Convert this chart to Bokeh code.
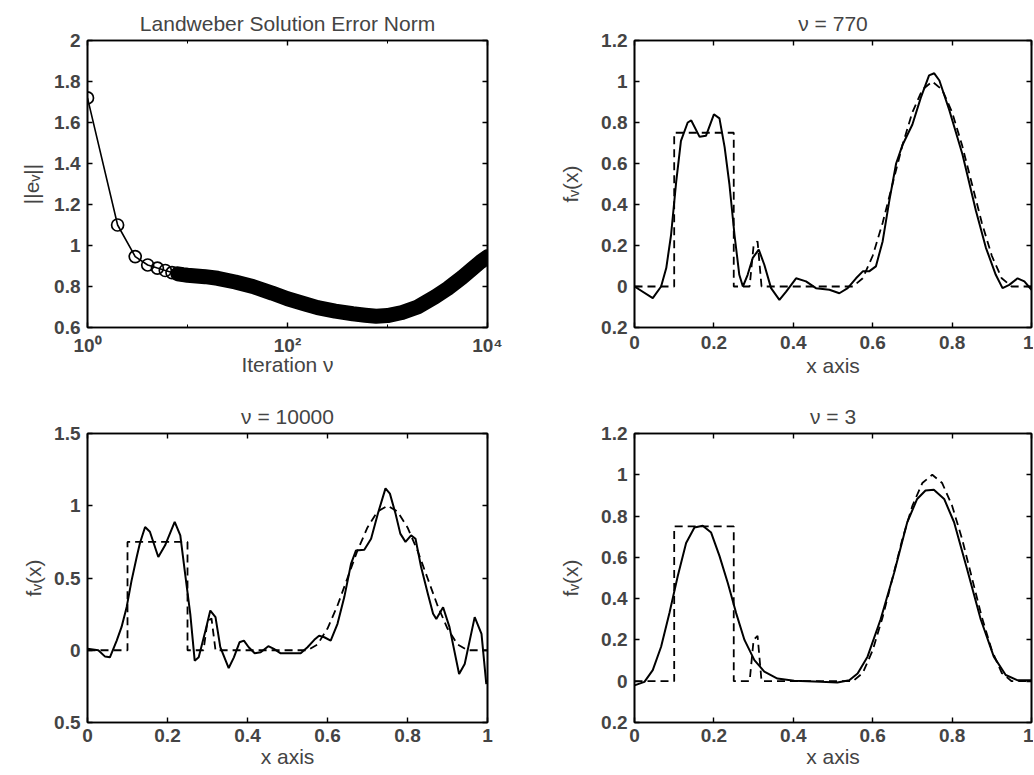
from bokeh.plotting import figure
from bokeh.layouts import column, row
from bokeh.models import FixedTicker, LinearAxis, LogAxis, Range1d
from bokeh.embed import file_html
from bokeh.resources import INLINE

FONT = "Liberation Sans"

# ---------------- data ----------------
# Landweber solution error norm vs iteration
nu_iter = [1, 2, 3, 4, 5, 6, 7, 8, 9, 10, 15, 20, 30, 45, 70, 100, 150, 200, 300,
           450, 600, 770, 1000, 1400, 2000, 3000, 4000, 5600, 7000, 8500, 10000]
err_norm = [1.72, 1.10, 0.946, 0.905, 0.89, 0.878, 0.868, 0.862, 0.858, 0.855, 0.848,
            0.840, 0.822, 0.800, 0.768, 0.740, 0.715, 0.697, 0.680, 0.667, 0.660, 0.655,
            0.658, 0.673, 0.700, 0.750, 0.790, 0.845, 0.885, 0.920, 0.945]

# exact solution (dashed)
x_true = [0, 0.1, 0.1, 0.25, 0.25, 0.29, 0.30, 0.31, 0.32, 0.55, 0.575, 0.6, 0.625, 0.65,
          0.675, 0.7, 0.725, 0.75, 0.775, 0.8, 0.825, 0.85, 0.875, 0.9, 0.925, 0.95, 1.0]
f_true = [0, 0, 0.75, 0.75, 0, 0, 0.2, 0.22, 0, 0, 0.04, 0.15, 0.31, 0.5,
          0.69, 0.85, 0.96, 1.0, 0.96, 0.85, 0.69, 0.5, 0.31, 0.15, 0.04, 0, 0]

# nu = 770
x_770 = [0, 0.046, 0.067, 0.08, 0.092, 0.105, 0.117, 0.134, 0.143, 0.164, 0.18, 0.2, 0.214,
         0.227, 0.239, 0.252, 0.264, 0.273, 0.285, 0.298, 0.313, 0.327, 0.344, 0.365, 0.382,
         0.407, 0.432, 0.457, 0.491, 0.516, 0.537, 0.558, 0.575, 0.591, 0.608, 0.625, 0.642,
         0.659, 0.675, 0.70, 0.721, 0.742, 0.755, 0.768, 0.793, 0.826, 0.86, 0.885, 0.91,
         0.927, 0.944, 0.965, 0.982, 1.0]
f_770 = [0, -0.057, 0, 0.09, 0.25, 0.51, 0.71, 0.80, 0.81, 0.73, 0.735, 0.84, 0.82,
         0.68, 0.50, 0.25, 0.057, 0.0, 0.057, 0.14, 0.18, 0.106, -0.008, -0.065, -0.025,
         0.04, 0.025, -0.008, -0.016, -0.033, -0.008, 0.04, 0.074, 0.074, 0.098, 0.22, 0.42,
         0.60, 0.69, 0.79, 0.92, 1.03, 1.04, 1.005, 0.86, 0.645, 0.37, 0.19, 0.057,
         -0.008, 0.008, 0.04, 0.025, -0.016]

# nu = 10000
x_10000 = [0, 0.027, 0.044, 0.056, 0.073, 0.085, 0.098, 0.11, 0.123, 0.131, 0.144, 0.156,
           0.177, 0.194, 0.218, 0.232, 0.244, 0.257, 0.268, 0.278, 0.295, 0.307, 0.32, 0.332,
           0.353, 0.366, 0.38, 0.391, 0.403, 0.418, 0.433, 0.452, 0.466, 0.483, 0.504, 0.533,
           0.55, 0.567, 0.579, 0.592, 0.608, 0.625, 0.642, 0.659, 0.671, 0.692, 0.709, 0.726,
           0.745, 0.756, 0.77, 0.782, 0.795, 0.809, 0.82, 0.834, 0.851, 0.864, 0.872, 0.889,
           0.905, 0.929, 0.943, 0.968, 0.985, 0.997]
f_10000 = [0.01, 0, -0.044, -0.049, 0.067, 0.16, 0.30, 0.48, 0.645, 0.74, 0.853, 0.82,
           0.645, 0.726, 0.888, 0.795, 0.53, 0.25, -0.072, -0.049, 0.136, 0.275, 0.229, 0.021,
           -0.123, -0.049, 0.055, 0.067, 0.021, -0.021, -0.014, 0.028, 0.009, -0.021, -0.021, -0.021,
           0.021, 0.072, 0.10, 0.09, 0.067, 0.183, 0.368, 0.60, 0.69, 0.696, 0.772, 0.946,
           1.12, 1.084, 0.946, 0.807, 0.75, 0.795, 0.772, 0.576, 0.39, 0.252, 0.217, 0.298,
           0.16, -0.164, -0.095, 0.229, 0.113, -0.234]

# nu = 3
x_3 = [0, 0.025, 0.046, 0.067, 0.088, 0.109, 0.13, 0.151, 0.172, 0.193, 0.214, 0.235, 0.256,
       0.277, 0.302, 0.327, 0.36, 0.402, 0.469, 0.511, 0.541, 0.562, 0.587, 0.62, 0.654, 0.687,
       0.712, 0.733, 0.754, 0.78, 0.805, 0.838, 0.872, 0.905, 0.935, 0.964, 1.0]
f_3 = [-0.02, -0.003, 0.054, 0.167, 0.33, 0.51, 0.67, 0.745, 0.753, 0.72, 0.607, 0.476, 0.33,
       0.2, 0.102, 0.046, 0.013, 0.002, -0.003, -0.006, 0.005, 0.037, 0.119, 0.30, 0.525, 0.77,
       0.883, 0.924, 0.927, 0.883, 0.77, 0.541, 0.30, 0.119, 0.03, 0.005, 0.005]

# tick values and labels
err_x_ticks = [1, 100, 10000]
err_x_labels = ["10\u2070", "10\u00b2", "10\u2074"]
err_x_minor = [10, 1000]
err_y_ticks = [0.6, 0.8, 1.0, 1.2, 1.4, 1.6, 1.8, 2.0]
err_y_labels = ["0.6", "0.8", "1", "1.2", "1.4", "1.6", "1.8", "2"]
fx_ticks = [0, 0.2, 0.4, 0.6, 0.8, 1.0]
fx_labels = ["0", "0.2", "0.4", "0.6", "0.8", "1"]
fy_ticks_a = [-0.2, 0, 0.2, 0.4, 0.6, 0.8, 1.0, 1.2]
fy_labels_a = ["0.2", "0", "0.2", "0.4", "0.6", "0.8", "1", "1.2"]
fy_ticks_b = [-0.5, 0, 0.5, 1.0, 1.5]
fy_labels_b = ["0.5", "0", "0.5", "1", "1.5"]


def overrides(ticks, labels):
    return {t: l for t, l in zip(ticks, labels)}


def make_fig(title, width, height, borders, xr, yr, xt, xl, yt, yl,
             xlabel=None, ylabel=None, log=False, xminor=None, ylabel_standoff=8,
             xtick_standoff=8, xlabel_standoff=2):
    bl, br, bt, bb = borders
    p = figure(width=width, height=height, x_range=Range1d(*xr), y_range=Range1d(*yr),
               x_axis_type="log" if log else "linear",
               toolbar_location=None, output_backend="svg",
               min_border_left=bl, min_border_right=br,
               min_border_top=bt, min_border_bottom=bb)
    p.title.text = title
    p.title.align = "center"
    p.title.text_font = FONT
    p.title.text_font_size = "21px"
    p.title.text_font_style = "normal"
    p.title.standoff = 12
    p.grid.visible = False
    p.outline_line_color = "black"
    p.outline_line_width = 1.6
    p.background_fill_color = "white"
    p.border_fill_color = "white"

    xa = p.xaxis[0]
    xa.ticker = FixedTicker(ticks=xt, minor_ticks=xminor or [])
    xa.major_label_overrides = overrides(xt, xl)
    ya = p.yaxis[0]
    ya.ticker = FixedTicker(ticks=yt)
    ya.major_label_overrides = overrides(yt, yl)
    for ax in (xa, ya):
        ax.major_tick_in = 5
        ax.major_tick_out = 0
        ax.minor_tick_in = 3 if ax is xa and xminor else 0
        ax.minor_tick_out = 0
        ax.axis_line_width = 1.6
        ax.major_tick_line_width = 1.4
        ax.major_label_text_font = FONT
        ax.major_label_text_font_size = "19px"
        ax.major_label_text_font_style = "bold"
        ax.axis_label_text_font = FONT
        ax.axis_label_text_font_size = "21px"
        ax.axis_label_text_font_style = "normal"
    xa.major_label_standoff = xtick_standoff
    xa.axis_label_standoff = xlabel_standoff
    ya.major_label_standoff = 7
    ya.axis_label_standoff = ylabel_standoff
    if xlabel:
        xa.axis_label = xlabel
    if ylabel:
        ya.axis_label = ylabel

    # mirrored ticks on top and right (box style)
    top_cls = LogAxis if log else LinearAxis
    top = top_cls(ticker=FixedTicker(ticks=xt, minor_ticks=xminor or []))
    right = LinearAxis(ticker=FixedTicker(ticks=yt))
    for ax in (top, right):
        ax.major_tick_in = 5
        ax.major_tick_out = 0
        ax.minor_tick_in = 3 if (ax is top and xminor) else 0
        ax.minor_tick_out = 0
        ax.major_label_text_font_size = "1px"
        ax.major_label_text_alpha = 0
        ax.major_label_standoff = 0
        ax.axis_line_width = 1.6
        ax.major_tick_line_width = 1.4
    p.add_layout(top, "above")
    p.add_layout(right, "right")
    return p


# top-left: error norm
p1 = make_fig("Landweber Solution Error Norm", 517, 388, (87, 30, 40, 61),
              (1, 10000), (0.6, 2.0), err_x_ticks, err_x_labels, err_y_ticks, err_y_labels,
              xlabel="Iteration \u03bd", ylabel="||e\u1d65||", log=True, xminor=err_x_minor,
              xtick_standoff=7, xlabel_standoff=-6)
p1.line(nu_iter, err_norm, line_color="black", line_width=1.6)
p1.line(nu_iter[7:], err_norm[7:], line_color="black", line_width=15, line_cap="round",
        line_join="round")
p1.scatter(nu_iter, err_norm, marker="circle", size=12, fill_color=None,
           line_color="black", line_width=1.7)

# top-right: nu = 770
p2 = make_fig("\u03bd = 770", 516, 388, (117, 2, 40, 61),
              (0, 1), (-0.2, 1.2), fx_ticks, fx_labels, fy_ticks_a, fy_labels_a,
              xlabel="x axis", ylabel="f\u1d65(x)", ylabel_standoff=16)
p2.line(x_true, f_true, line_color="black", line_width=1.8, line_dash="8 5")
p2.line(x_770, f_770, line_color="black", line_width=2)

# bottom-left: nu = 10000
p3 = make_fig("\u03bd = 10000", 517, 386, (87, 30, 45, 52),
              (0, 1), (-0.5, 1.5), fx_ticks, fx_labels, fy_ticks_b, fy_labels_b,
              xlabel="x axis", ylabel="f\u1d65(x)", ylabel_standoff=6,
              xtick_standoff=6, xlabel_standoff=0)
p3.line(x_true, f_true, line_color="black", line_width=1.8, line_dash="8 5")
p3.line(x_10000, f_10000, line_color="black", line_width=2)

# bottom-right: nu = 3
p4 = make_fig("\u03bd = 3", 516, 386, (117, 2, 45, 52),
              (0, 1), (-0.2, 1.2), fx_ticks, fx_labels, fy_ticks_a, fy_labels_a,
              xlabel="x axis", ylabel="f\u1d65(x)", ylabel_standoff=16,
              xtick_standoff=6, xlabel_standoff=0)
p4.line(x_true, f_true, line_color="black", line_width=1.8, line_dash="8 5")
p4.line(x_3, f_3, line_color="black", line_width=2)

layout = column(row(p1, p2), row(p3, p4))
open("out.html", "w").write(file_html(layout, INLINE))
